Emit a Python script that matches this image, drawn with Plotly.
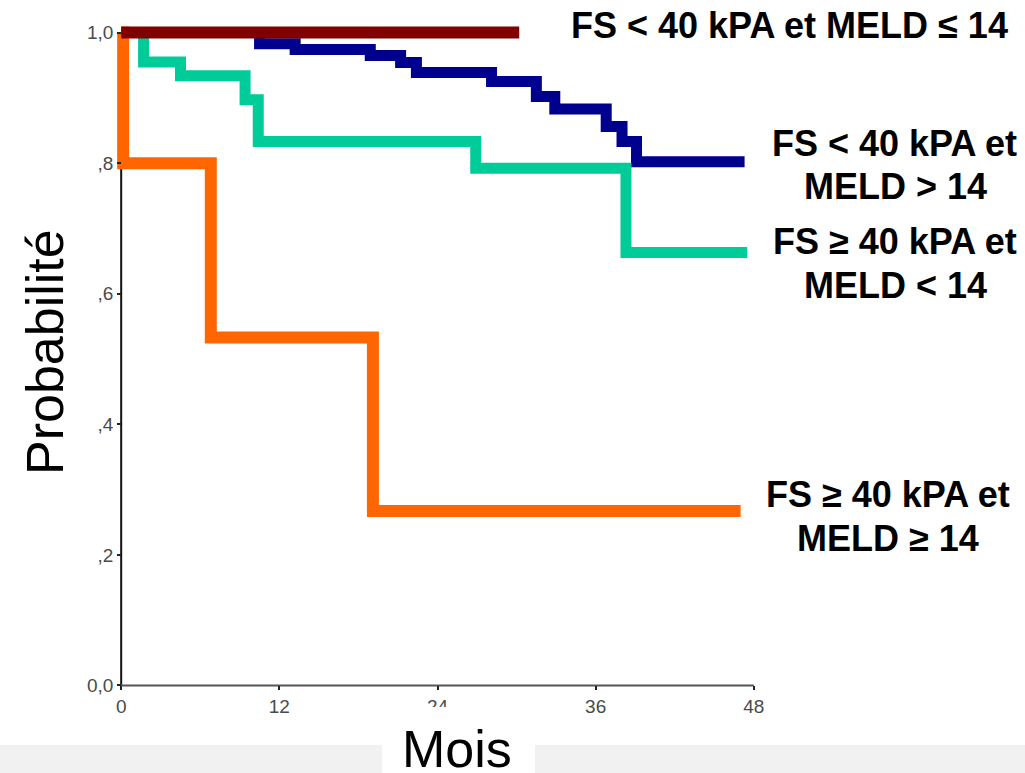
import plotly.graph_objects as go

# ---------------- data ----------------
months_ticks = [0, 12, 24, 36, 48]
prob_ticks = [0.0, 0.2, 0.4, 0.6, 0.8, 1.0]
prob_tick_text = ["0,0", ",2", ",4", ",6", ",8", "1,0"]

# FS < 40 kPA et MELD <= 14
t_low_low = [0, 30.2]
s_low_low = [1.0, 1.0]

# FS < 40 kPA et MELD > 14
t_low_high = [0, 10.5, 13.2, 18.9, 21.2, 22.4, 28.1, 31.5, 32.9, 36.8, 38.0, 39.1, 47.3]
s_low_high = [1.0, 0.983, 0.974, 0.965, 0.954, 0.939, 0.925, 0.902, 0.883, 0.856, 0.833, 0.802, 0.802]

# FS >= 40 kPA et MELD < 14
t_high_low = [0, 1.7, 4.5, 9.4, 10.4, 26.9, 38.3, 47.5]
s_high_low = [1.0, 0.955, 0.934, 0.897, 0.833, 0.792, 0.663, 0.663]

# FS >= 40 kPA et MELD >= 14
t_high_high = [0, 0.15, 6.8, 19.1, 47.0]
s_high_high = [1.0, 0.8, 0.533, 0.267, 0.267]

labels = [
    ("FS < 40 kPA et MELD ≤ 14", 789, 25),
    ("FS < 40 kPA et", 894, 143),
    ("MELD > 14", 895, 187),
    ("FS ≥ 40 kPA et", 895, 242),
    ("MELD < 14", 895, 285),
    ("FS ≥ 40 kPA et", 888, 494),
    ("MELD ≥ 14", 888, 538),
]

# ---------------- layout geometry ----------------
WIDTH, HEIGHT = 1025, 773
X_RANGE = [-1, 49]
Y_RANGE = [-0.03, 1.03]
ML, MR, MT, MB = 108, 258, 13, 68
PW = WIDTH - ML - MR
PH = HEIGHT - MT - MB


def px_x(px):
    return (px - ML) / PW


def px_y(py):
    return (HEIGHT - MB - py) / PH


fig = go.Figure()

series = [
    (t_low_high, s_low_high, "#00008f", 11),
    (t_high_low, s_high_low, "#00cc99", 11),
    (t_high_high, s_high_high, "#ff6600", 12),
    (t_low_low, s_low_low, "#800000", 12),
]
for t, s, col, w in series:
    fig.add_trace(go.Scatter(
        x=t, y=s, mode="lines", line=dict(color=col, width=w, shape="hv"),
        showlegend=False, hoverinfo="skip",
    ))

font_family = "Arial, 'Liberation Sans', sans-serif"

fig.update_layout(
    width=WIDTH, height=HEIGHT,
    margin=dict(l=ML, r=MR, t=MT, b=MB, pad=0),
    paper_bgcolor="white", plot_bgcolor="white",
    xaxis=dict(
        range=X_RANGE, showgrid=False, zeroline=False, showline=False,
        anchor="free", position=(0 - Y_RANGE[0]) / (Y_RANGE[1] - Y_RANGE[0]),
        tickmode="array", tickvals=months_ticks, ticktext=[str(v) for v in months_ticks],
        ticks="outside", ticklen=4, tickwidth=2, tickcolor="#222",
        tickfont=dict(family=font_family, size=19, color="#4a4a4a"),
    ),
    yaxis=dict(
        range=Y_RANGE, showgrid=False, zeroline=False, showline=False,
        anchor="free", position=(0 - X_RANGE[0]) / (X_RANGE[1] - X_RANGE[0]),
        tickmode="array", tickvals=prob_ticks, ticktext=prob_tick_text,
        ticks="outside", ticklen=4, tickwidth=2, tickcolor="#222",
        tickfont=dict(family=font_family, size=19, color="#4a4a4a"),
    ),
    font=dict(family=font_family),
)

# axis lines
fig.add_shape(type="line", xref="x", yref="y", x0=0, x1=0, y0=0, y1=1,
              line=dict(color="#111", width=2), layer="below")
fig.add_shape(type="line", xref="x", yref="y", x0=0, x1=48, y0=0, y1=0,
              line=dict(color="#555", width=2), layer="below")

# bottom band and white box behind "Mois"
fig.add_shape(type="rect", xref="paper", yref="paper",
              x0=px_x(0), x1=px_x(WIDTH), y0=px_y(773), y1=px_y(745),
              fillcolor="#f1f1f1", line=dict(width=0), layer="above")
fig.add_shape(type="rect", xref="paper", yref="paper",
              x0=px_x(382), x1=px_x(535), y0=px_y(773), y1=px_y(707),
              fillcolor="white", line=dict(width=0), layer="above")

for text, cx, cy in labels:
    fig.add_annotation(text=text, xref="paper", yref="paper", x=px_x(cx), y=px_y(cy),
                       xanchor="center", yanchor="middle", showarrow=False,
                       font=dict(family=font_family, size=36, color="black", weight="bold"))

fig.add_annotation(text="Probabilité", xref="paper", yref="paper", x=px_x(45), y=px_y(352),
                   xanchor="center", yanchor="middle", textangle=-90, showarrow=False,
                   font=dict(family=font_family, size=52, color="black"))
fig.add_annotation(text="Mois", xref="paper", yref="paper", x=px_x(457), y=px_y(749),
                   xanchor="center", yanchor="middle", showarrow=False,
                   font=dict(family=font_family, size=52, color="black"))

fig.write_html(
    "out.html",
    config={"displayModeBar": False},
    post_script="document.body.style.margin='0';document.body.style.overflow='hidden';",
)
